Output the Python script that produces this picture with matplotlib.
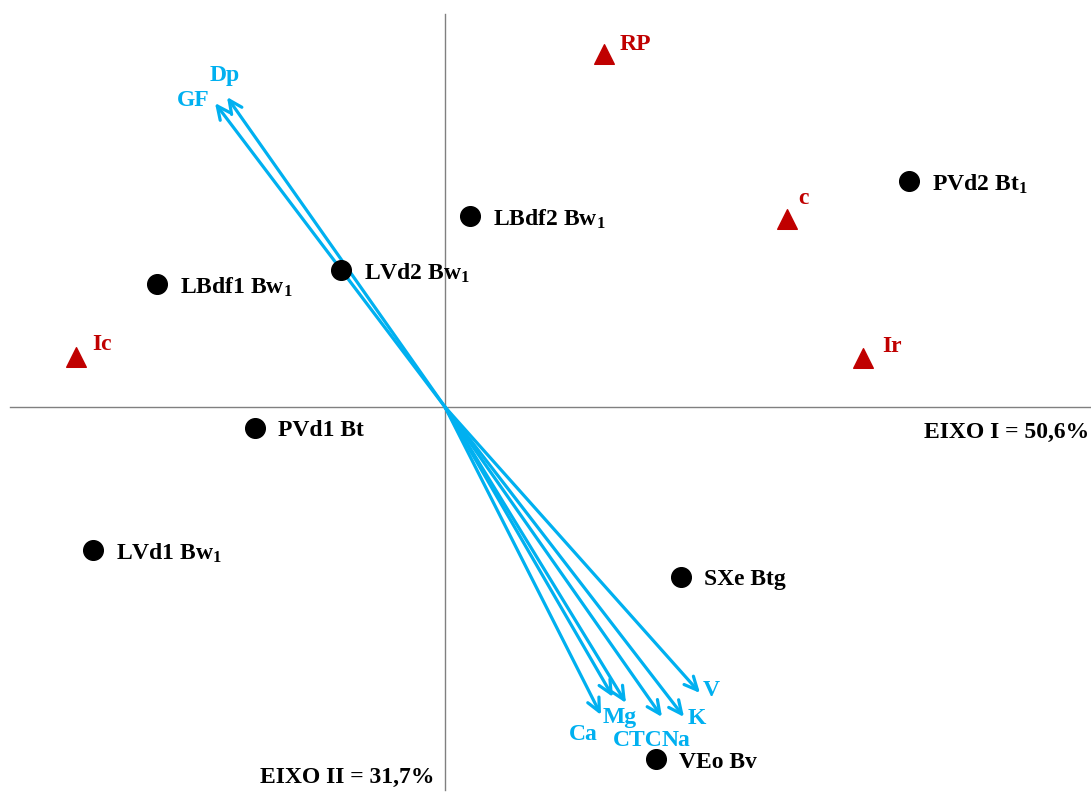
import matplotlib
matplotlib.use("Agg")
import matplotlib.pyplot as plt

plt.rcParams['font.family'] = ['Liberation Serif', 'DejaVu Serif']
plt.rcParams['font.weight'] = 'bold'
plt.rcParams['mathtext.fontset'] = 'custom'
plt.rcParams['mathtext.rm'] = 'Liberation Serif:bold'
plt.rcParams['mathtext.it'] = 'Liberation Serif:bold'
plt.rcParams['mathtext.bf'] = 'Liberation Serif:bold'
plt.rcParams['mathtext.default'] = 'rm'

# Soil profile scores (axis I, axis II)
site_names = [r'PVd2 Bt$_1$', r'LBdf2 Bw$_1$', r'LVd2 Bw$_1$', r'LBdf1 Bw$_1$',
              'PVd1 Bt', r'LVd1 Bw$_1$', 'SXe Btg', 'VEo Bv']
site_x = [4.64, 0.25, -1.04, -2.88, -1.90, -3.52, 2.36, 2.11]
site_y = [2.26, 1.91, 1.37, 1.23, -0.21, -1.43, -1.70, -3.52]

# Landscape position scores
pos_names = ['RP', 'c', 'Ic', 'Ir']
pos_x = [1.59, 3.42, -3.69, 4.18]
pos_y = [3.53, 1.88, 0.50, 0.49]

# Variable loadings
var_names = ['Dp', 'GF', 'Ca', 'CTC', 'Mg', 'Na', 'K', 'V']
var_x = [-2.18, -2.30, 1.56, 1.68, 1.81, 2.17, 2.39, 2.55]
var_y = [3.10, 3.04, -3.08, -2.90, -2.96, -3.10, -3.10, -2.86]

BLUE = '#00B0F0'
RED = '#C00000'
FS = 17

fig = plt.figure(figsize=(10.91, 7.96), dpi=100)
ax = fig.add_axes([0, 0, 1, 1])
ax.set_xlim(-4.45, 6.46)
ax.set_ylim(-3.89, 4.07)
ax.axis('off')

# Ordination axes
ax.plot([-4.35, 6.46], [0, 0], color='#808080', lw=1.0, zorder=1)
ax.plot([0, 0], [-3.83, 3.93], color='#808080', lw=1.0, zorder=1)

# Variable vectors
for vx, vy in zip(var_x, var_y):
    ax.annotate('', xy=(vx, vy), xytext=(0, 0),
                arrowprops=dict(arrowstyle='->,head_length=0.95,head_width=0.45',
                                color=BLUE, lw=2.3, shrinkA=0, shrinkB=0),
                zorder=2)

var_off = {'Dp': (-0.17, 0.21), 'GF': (-0.38, 0.03), 'Ca': (-0.32, -0.20),
           'CTC': (0.00, -0.44), 'Mg': (-0.23, -0.15), 'Na': (0.00, -0.24),
           'K': (0.04, -0.02), 'V': (0.03, 0.03)}
for n, vx, vy in zip(var_names, var_x, var_y):
    dx, dy = var_off[n]
    ax.text(vx + dx, vy + dy, n, color=BLUE, fontsize=FS, fontweight='bold',
            ha='left', va='center', zorder=4)

# Soil profiles
ax.scatter(site_x, site_y, s=200, color='black', zorder=3)
for n, sx, sy in zip(site_names, site_x, site_y):
    ax.text(sx + 0.23, sy - 0.03, n, color='black', fontsize=FS,
            fontweight='bold', ha='left', va='center', zorder=4)

# Landscape positions
ax.scatter(pos_x, pos_y, s=200, marker='^', color=RED, zorder=3)
pos_off = {'RP': (0.16, 0.10), 'c': (0.11, 0.20), 'Ic': (0.16, 0.13),
           'Ir': (0.19, 0.11)}
for n, px, py in zip(pos_names, pos_x, pos_y):
    dx, dy = pos_off[n]
    ax.text(px + dx, py + dy, n, color=RED, fontsize=FS,
            fontweight='bold', ha='left', va='center', zorder=4)

ax.text(6.44, -0.25, 'EIXO I = 50,6%', fontsize=FS, fontweight='bold',
        ha='right', va='center')
ax.text(-0.11, -3.70, 'EIXO II = 31,7%', fontsize=FS, fontweight='bold',
        ha='right', va='center')

fig.savefig('out.png', dpi=100, facecolor='white')
